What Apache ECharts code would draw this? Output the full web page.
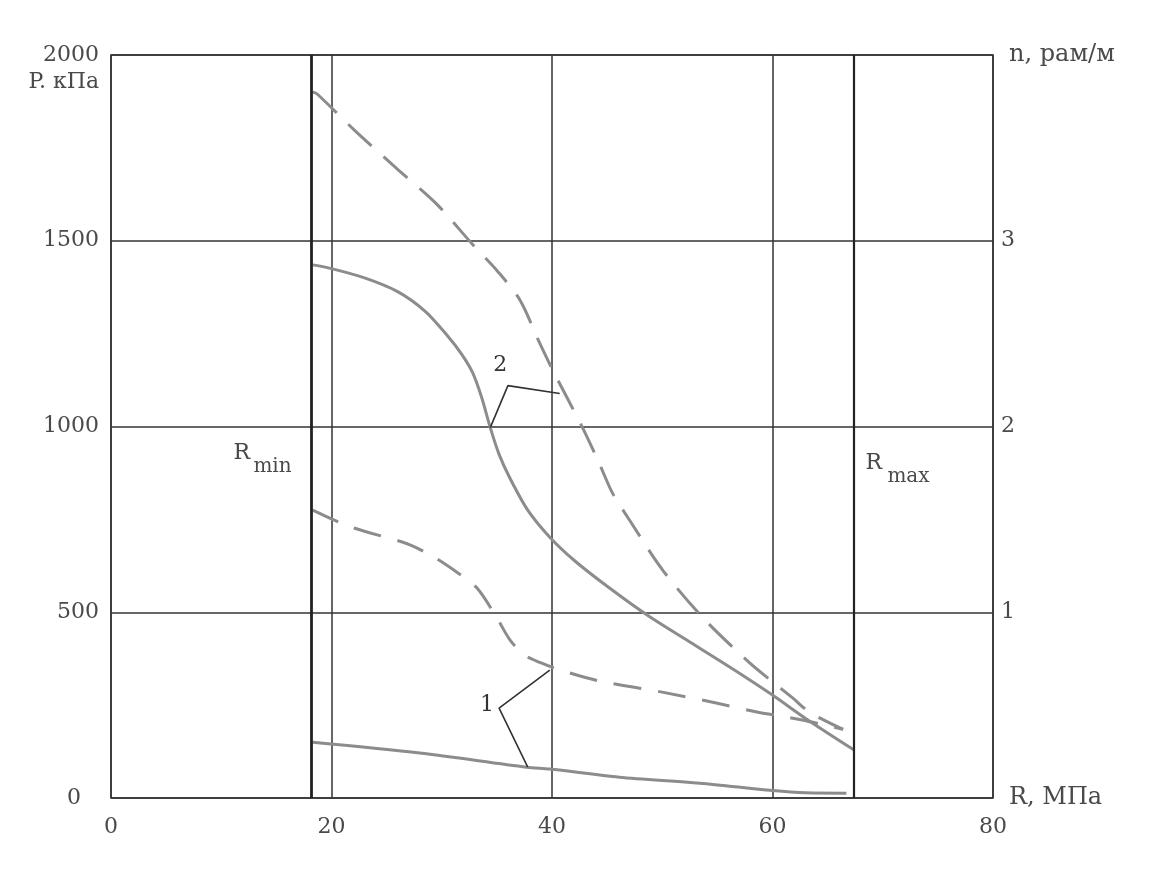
<!DOCTYPE html>
<html>
<head>
<meta charset="utf-8">
<script src="https://cdn.jsdelivr.net/npm/echarts@6/dist/echarts.min.js"></script>
<style>html,body{margin:0;padding:0;background:#fff;}#c{width:1158px;height:870px;}</style>
</head>
<body>
<div id="c"></div>
<script>
// R, MPa values and P, kPa (solid) / n, рам/м (dashed)
const r2Solid = [18.3, 20, 23, 26, 28.5, 30.5, 31.8, 32.8, 33.6, 34.4, 35.2, 36.2, 37.8, 39.8, 42, 45, 48.9, 52.5, 57, 60, 63.1, 67.4];
const p2Solid = [1435, 1425, 1400, 1363, 1310, 1245, 1195, 1145, 1080, 997, 925, 860, 775, 702, 640, 570, 487, 420, 336, 277, 212, 129];

const r2Dash = [18.3, 18.7, 22, 25.9, 29.5, 32.8, 35, 37.1, 38.8, 40.1, 42.8, 44.3, 45.5, 47.1, 50, 53.7, 57.7, 59.7, 61.8, 63.4, 66.4];
const n2Dash = [3.80, 3.79, 3.60, 3.39, 3.20, 2.98, 2.84, 2.68, 2.46, 2.30, 1.99, 1.80, 1.64, 1.49, 1.23, 0.97, 0.74, 0.64, 0.54, 0.46, 0.37];

const r1Dash = [18.3, 21.7, 26.8, 29.2, 31.5, 33.2, 35, 36.2, 37.5, 38.9, 40.7, 44.3, 50, 55, 58.8, 60.9, 62.7, 64.9, 66.4];
const n1Dash = [1.55, 1.46, 1.37, 1.30, 1.21, 1.13, 0.97, 0.85, 0.77, 0.73, 0.69, 0.63, 0.57, 0.51, 0.46, 0.44, 0.42, 0.39, 0.37];

const r1Solid = [18.3, 28, 37.7, 39.8, 46.1, 53.4, 60, 63, 66.7];
const p1Solid = [150, 121, 83, 78, 56, 40, 20, 14, 13];

const rMin = 18.2, rMax = 67.4;
const leader2 = [[34.4, 997], [36.0, 1110], [40.7, 1089]];
const leader1 = [[39.8, 344], [35.2, 242], [37.8, 83]];
const label2Pos = [35.3, 1165];
const label1Pos = [34.1, 250];
const rMinPos = [11.1, 1000];
const rMaxPos = [75.5, 900];

const xMin = 0, xMax = 80, xStep = 20;
const pMin = 0, pMax = 2000, pStep = 500;
const nMin = 0, nMax = 4, nStep = 1;

const zip = (a, b) => a.map((v, i) => [v, b[i]]);

const FONT = 'DejaVu Serif';
const TXT = '#4a4a4a';
const GRIDC = '#333';
const CURVE = '#8c8c8c';

const chart = echarts.init(document.getElementById('c'));
chart.setOption({
  backgroundColor: '#fff',
  animation: false,
  grid: { left: 111, right: 165, top: 55, bottom: 72, show: true, borderColor: GRIDC, borderWidth: 1.5 },
  xAxis: {
    type: 'value', min: xMin, max: xMax, interval: xStep,
    axisLine: { show: false }, axisTick: { show: false },
    splitLine: { show: true, lineStyle: { color: GRIDC, width: 1.5 } },
    axisLabel: { color: TXT, fontFamily: FONT, fontSize: 22, margin: 18 }
  },
  yAxis: [{
    type: 'value', min: pMin, max: pMax, interval: pStep, position: 'left',
    axisLine: { show: false }, axisTick: { show: false },
    splitLine: { show: true, lineStyle: { color: GRIDC, width: 1.5 } },
    axisLabel: {
      color: TXT, fontFamily: FONT, fontSize: 22, margin: 12,
      formatter: v => v === 0 ? '{z|0}' : String(v),
      rich: { z: { color: TXT, fontFamily: FONT, fontSize: 22, padding: [0, 18, 0, 0] } }
    }
  }, {
    type: 'value', min: nMin, max: nMax, interval: nStep, position: 'right',
    axisLine: { show: false }, axisTick: { show: false }, splitLine: { show: false },
    axisLabel: {
      color: TXT, fontFamily: FONT, fontSize: 22, margin: 8,
      formatter: v => v === 0 ? '{a|R, МПа}' : (v === 4 ? '{a|n, рам/м}' : String(v)),
      rich: { a: { color: TXT, fontFamily: FONT, fontSize: 24, padding: [0, 0, 0, 8] } }
    }
  }],
  series: [
    {
      type: 'line', yAxisIndex: 0, data: zip(r2Solid, p2Solid), smooth: 0.3, symbol: 'none',
      lineStyle: { color: CURVE, width: 3 }, z: 3,
      markLine: {
        silent: true, symbol: 'none', label: { show: false },
        data: [
          { xAxis: rMin, lineStyle: { color: '#222', width: 2.8, type: 'solid' } },
          { xAxis: rMax, lineStyle: { color: '#222', width: 2.2, type: 'solid' } }
        ]
      }
    },
    {
      type: 'line', yAxisIndex: 1, data: zip(r2Dash, n2Dash), smooth: 0.3, symbol: 'none',
      lineStyle: { color: CURVE, width: 3, type: [32, 16] }, z: 3
    },
    {
      type: 'line', yAxisIndex: 1, data: zip(r1Dash, n1Dash), smooth: 0.3, symbol: 'none',
      lineStyle: { color: CURVE, width: 3, type: [28, 17] }, z: 3
    },
    {
      type: 'line', yAxisIndex: 0, data: zip(r1Solid, p1Solid), smooth: 0.3, symbol: 'none',
      lineStyle: { color: CURVE, width: 3 }, z: 3
    },
    {
      type: 'line', yAxisIndex: 0, data: leader2, symbol: 'none',
      lineStyle: { color: '#333', width: 1.6 }, z: 4
    },
    {
      type: 'line', yAxisIndex: 0, data: leader1, symbol: 'none',
      lineStyle: { color: '#333', width: 1.6 }, z: 4
    }
  ]
});

const px = p => chart.convertToPixel({ xAxisIndex: 0, yAxisIndex: 0 }, p);
const topLeft = px([xMin, pMax]);
const l2 = px(label2Pos), l1 = px(label1Pos), rmn = px(rMinPos), rmx = px(rMaxPos);
const ts = (extra) => Object.assign({ fill: TXT, fontFamily: FONT, fontSize: 22 }, extra);
chart.setOption({
  graphic: [
    { type: 'text', x: topLeft[0] - 12, y: topLeft[1] + 27, style: ts({ text: 'P. кПа', align: 'right', verticalAlign: 'middle' }) },
    { type: 'text', x: l2[0], y: l2[1], style: ts({ text: '2', align: 'center', verticalAlign: 'middle', fill: '#333' }) },
    { type: 'text', x: l1[0], y: l1[1], style: ts({ text: '1', align: 'center', verticalAlign: 'middle', fill: '#333' }) },
    { type: 'text', x: rmn[0], y: rmn[1] + 27, style: ts({ text: 'R', align: 'left', verticalAlign: 'middle', fontSize: 22 }) },
    { type: 'text', x: rmn[0] + 20, y: rmn[1] + 40, style: ts({ text: 'min', align: 'left', verticalAlign: 'middle', fontSize: 20 }) },
    { type: 'text', x: rmx[0] - 78, y: rmx[1] + 0, style: ts({ text: 'R', align: 'left', verticalAlign: 'middle', fontSize: 22 }) },
    { type: 'text', x: rmx[0] - 56, y: rmx[1] + 13, style: ts({ text: 'max', align: 'left', verticalAlign: 'middle', fontSize: 20 }) }
  ]
});
</script>
</body>
</html>
